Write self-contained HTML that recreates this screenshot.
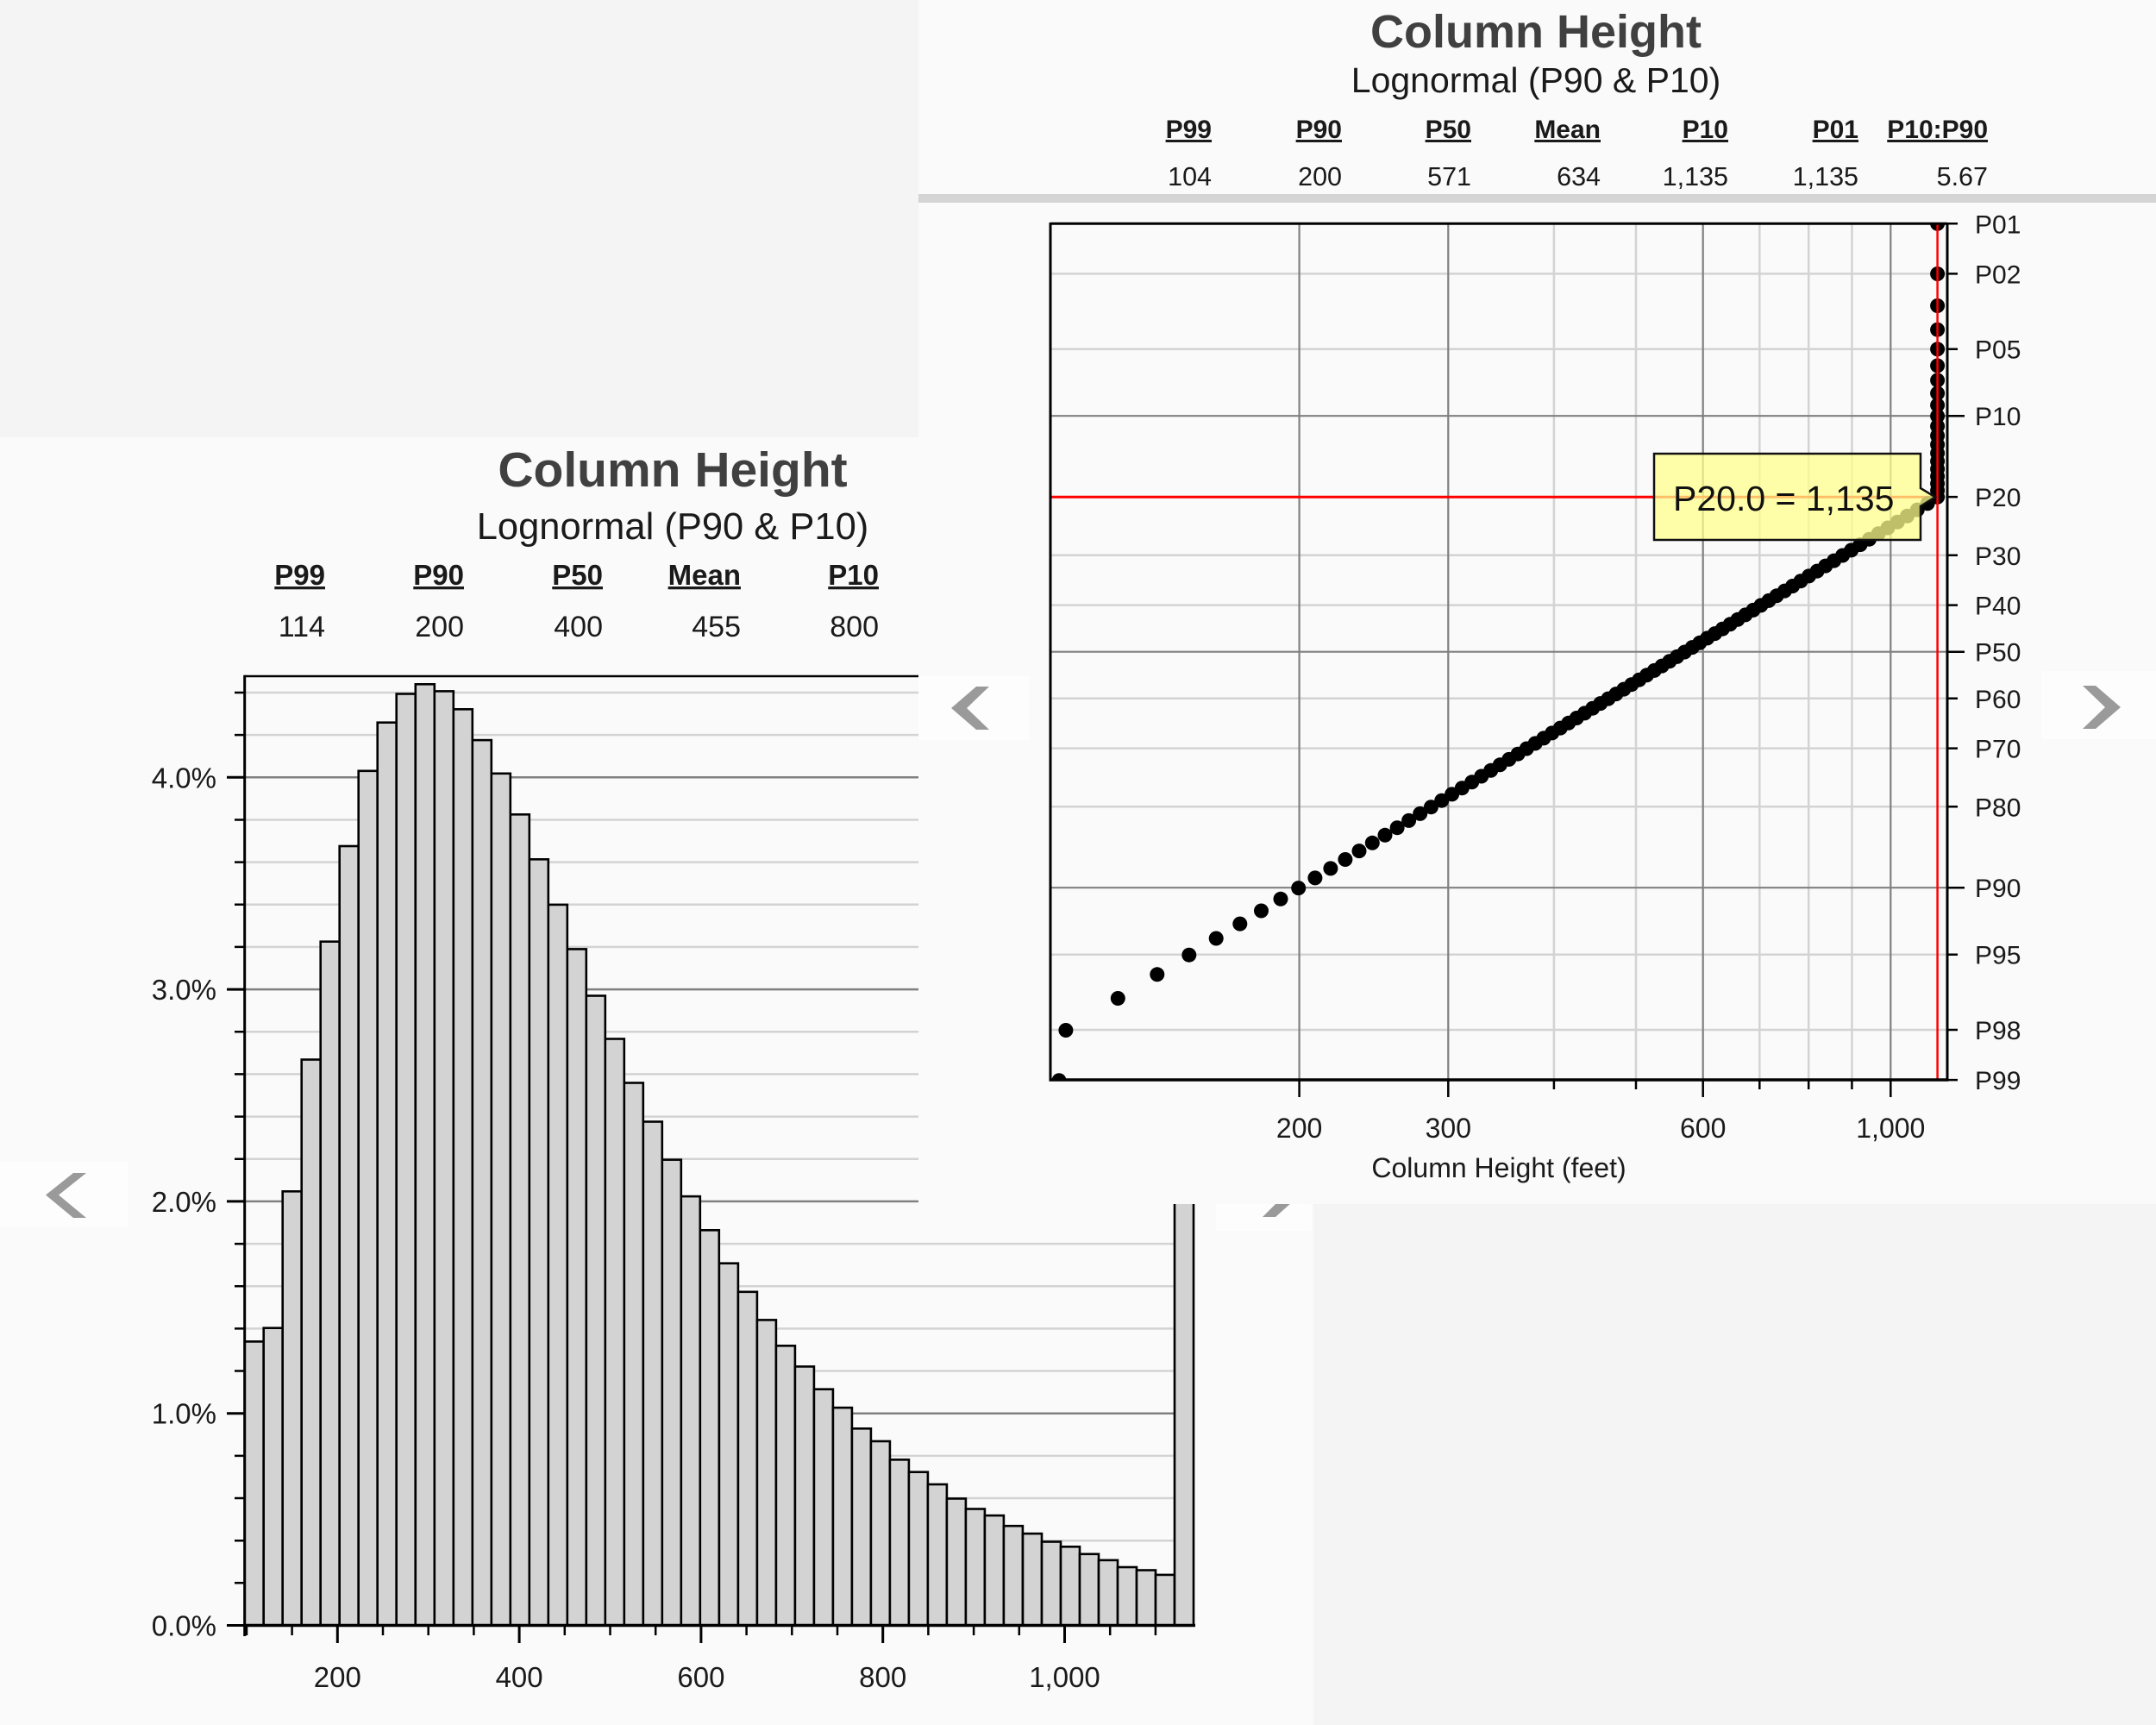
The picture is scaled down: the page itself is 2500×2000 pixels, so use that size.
<!DOCTYPE html>
<html>
<head>
<meta charset="utf-8">
<style>
html,body{margin:0;padding:0;background:#f4f4f4;}
svg{display:block;}
text{font-family:"Liberation Sans",Arial,sans-serif;}
</style>
</head>
<body>
<svg width="2500" height="2000" viewBox="0 0 2500 2000" xmlns="http://www.w3.org/2000/svg">
<defs>
<clipPath id="pc"><rect x="1218" y="259.3" width="1040" height="992.7"/></clipPath>
</defs>
<rect x="0" y="0" width="2500" height="2000" fill="#f4f4f4"/>
<rect x="0" y="507" width="1523" height="1493" fill="#fafafa"/>
<rect x="0" y="1347" width="148" height="75" fill="#fdfdfd"/>
<rect x="1410" y="1343" width="111" height="84" fill="#fdfdfd"/>
<polygon points="100,1360 85,1360 53,1385.5 85,1412 100,1412 68,1385.5" fill="#9a9a9a"/>
<polygon points="1464,1359 1479,1359 1508,1385 1479,1411 1464,1411 1490,1385" fill="#9a9a9a"/>

<!-- LEFT CHART -->
<text x="780" y="564" text-anchor="middle" font-size="57" font-weight="bold" fill="#404040">Column Height</text>
<text x="780" y="625" text-anchor="middle" font-size="43.5" fill="#1a1a1a">Lognormal (P90 &amp; P10)</text>
<g font-size="33" font-weight="bold" fill="#1a1a1a" text-anchor="end" style="text-decoration:underline">
<text x="377" y="678">P99</text>
<text x="538" y="678">P90</text>
<text x="699" y="678">P50</text>
<text x="859" y="678">Mean</text>
<text x="1019" y="678">P10</text>
</g>
<g font-size="34" fill="#1a1a1a" text-anchor="end">
<text x="377" y="738">114</text>
<text x="538" y="738">200</text>
<text x="699" y="738">400</text>
<text x="859" y="738">455</text>
<text x="1019" y="738">800</text>
</g>
<path d="M283.7 1835.3H1384M283.7 1786.2H1384M283.7 1737H1384M283.7 1687.9H1384M283.7 1589.5H1384M283.7 1540.4H1384M283.7 1491.2H1384M283.7 1442.1H1384M283.7 1343.7H1384M283.7 1294.6H1384M283.7 1245.4H1384M283.7 1196.3H1384M283.7 1097.9H1384M283.7 1048.8H1384M283.7 999.6H1384M283.7 950.5H1384M283.7 852.1H1384M283.7 803H1384" stroke="#d3d3d3" stroke-width="2.5" fill="none"/>
<path d="M283.7 1638.7H1384M283.7 1392.9H1384M283.7 1147.1H1384M283.7 901.3H1384" stroke="#808080" stroke-width="2.5" fill="none"/>
<g fill="#d3d3d3" stroke="#000" stroke-width="2.6">
<rect x="283.7" y="1555.4" width="22" height="329.1"/>
<rect x="305.7" y="1539.7" width="22" height="344.8"/>
<rect x="327.7" y="1381.3" width="22" height="503.2"/>
<rect x="349.7" y="1228.5" width="22" height="656"/>
<rect x="371.7" y="1091.7" width="22" height="792.8"/>
<rect x="393.7" y="981" width="22" height="903.5"/>
<rect x="415.7" y="893.8" width="22" height="990.7"/>
<rect x="437.7" y="837.7" width="22" height="1046.8"/>
<rect x="459.7" y="804.5" width="22" height="1080"/>
<rect x="481.8" y="793.3" width="22" height="1091.2"/>
<rect x="503.8" y="801.4" width="22" height="1083.1"/>
<rect x="525.8" y="822.3" width="22" height="1062.2"/>
<rect x="547.8" y="858.1" width="22" height="1026.4"/>
<rect x="569.8" y="896.8" width="22" height="987.7"/>
<rect x="591.8" y="944.3" width="22" height="940.2"/>
<rect x="613.8" y="996.3" width="22" height="888.2"/>
<rect x="635.8" y="1048.9" width="22" height="835.6"/>
<rect x="657.8" y="1100.4" width="22" height="784.1"/>
<rect x="679.8" y="1154.5" width="22" height="730"/>
<rect x="701.8" y="1204.5" width="22" height="680"/>
<rect x="723.8" y="1255.5" width="22" height="629"/>
<rect x="745.8" y="1300.5" width="22" height="584"/>
<rect x="767.8" y="1344.6" width="22" height="539.9"/>
<rect x="789.8" y="1387.1" width="22" height="497.4"/>
<rect x="811.8" y="1426.3" width="22" height="458.2"/>
<rect x="833.9" y="1464.7" width="22" height="419.8"/>
<rect x="855.9" y="1497.8" width="22" height="386.7"/>
<rect x="877.9" y="1530.4" width="22" height="354.1"/>
<rect x="899.9" y="1560.3" width="22" height="324.2"/>
<rect x="921.9" y="1584.4" width="22" height="300.1"/>
<rect x="943.9" y="1610.7" width="22" height="273.8"/>
<rect x="965.9" y="1632.1" width="22" height="252.4"/>
<rect x="987.9" y="1656.3" width="22" height="228.2"/>
<rect x="1009.9" y="1671" width="22" height="213.5"/>
<rect x="1031.9" y="1692.4" width="22" height="192.1"/>
<rect x="1053.9" y="1706.7" width="22" height="177.8"/>
<rect x="1075.9" y="1721" width="22" height="163.5"/>
<rect x="1097.9" y="1737.5" width="22" height="147"/>
<rect x="1119.9" y="1749.5" width="22" height="135"/>
<rect x="1141.9" y="1757.1" width="22" height="127.4"/>
<rect x="1163.9" y="1769.2" width="22" height="115.3"/>
<rect x="1186" y="1778.1" width="22" height="106.4"/>
<rect x="1208" y="1787.5" width="22" height="97"/>
<rect x="1230" y="1793.3" width="22" height="91.2"/>
<rect x="1252" y="1801.8" width="22" height="82.7"/>
<rect x="1274" y="1808.9" width="22" height="75.6"/>
<rect x="1296" y="1817" width="22" height="67.5"/>
<rect x="1318" y="1820.5" width="22" height="64"/>
<rect x="1340" y="1825.9" width="22" height="58.6"/>
<rect x="1362" y="1000" width="22" height="884.5"/>
</g>
<path d="M283.7 784H1384" stroke="#000" stroke-width="2.5"/>
<path d="M283.7 782.8V1897" stroke="#000" stroke-width="3"/>
<path d="M282 1884.5H1386" stroke="#000" stroke-width="3.5"/>
<path d="M272 1835.3H284M272 1786.2H284M272 1737H284M272 1687.9H284M272 1589.5H284M272 1540.4H284M272 1491.2H284M272 1442.1H284M272 1343.7H284M272 1294.6H284M272 1245.4H284M272 1196.3H284M272 1097.9H284M272 1048.8H284M272 999.6H284M272 950.5H284M272 852.1H284M272 803H284" stroke="#000" stroke-width="2.5"/>
<path d="M263 1884.5H284M263 1638.7H284M263 1392.9H284M263 1147.1H284M263 901.3H284" stroke="#000" stroke-width="3"/>
<g font-size="33" fill="#1a1a1a" text-anchor="end">
<text x="251" y="1896.5">0.0%</text>
<text x="251" y="1650.7">1.0%</text>
<text x="251" y="1404.9">2.0%</text>
<text x="251" y="1159.1">3.0%</text>
<text x="251" y="913.3">4.0%</text>
</g>
<path d="M286 1884V1896M338.6 1884V1896M444 1884V1896M496.7 1884V1896M549.4 1884V1896M654.8 1884V1896M707.5 1884V1896M760.2 1884V1896M865.6 1884V1896M918.3 1884V1896M971 1884V1896M1076.4 1884V1896M1129.1 1884V1896M1181.8 1884V1896M1287.2 1884V1896M1339.9 1884V1896" stroke="#000" stroke-width="2.5"/>
<path d="M391.3 1884V1905M602.1 1884V1905M812.9 1884V1905M1023.7 1884V1905M1234.5 1884V1905" stroke="#000" stroke-width="3"/>
<g font-size="33" fill="#1a1a1a" text-anchor="middle">
<text x="391.3" y="1956">200</text>
<text x="602.1" y="1956">400</text>
<text x="812.9" y="1956">600</text>
<text x="1023.7" y="1956">800</text>
<text x="1234.5" y="1956">1,000</text>
</g>

<rect x="1523" y="1396" width="977" height="604" fill="#f4f4f4"/>

<!-- RIGHT PANEL -->
<rect x="1065" y="0" width="1435" height="1396" fill="#fafafa"/>
<rect x="1065" y="225" width="1435" height="10" fill="#d4d4d4"/>
<rect x="1065" y="784" width="128" height="74" fill="#fdfdfd"/>
<rect x="2367" y="778" width="133" height="79" fill="#fdfdfd"/>
<polygon points="1147,796 1132,796 1103,821 1132,846 1147,846 1121,821" fill="#9a9a9a"/>
<polygon points="2415,795 2430,795 2459,820 2430,845 2415,845 2441,820" fill="#9a9a9a"/>

<text x="1781" y="55" text-anchor="middle" font-size="54" font-weight="bold" fill="#404040">Column Height</text>
<text x="1781" y="107" text-anchor="middle" font-size="41" fill="#1a1a1a">Lognormal (P90 &amp; P10)</text>
<g font-size="30" font-weight="bold" fill="#1a1a1a" text-anchor="end" style="text-decoration:underline">
<text x="1405" y="160">P99</text>
<text x="1556" y="160">P90</text>
<text x="1706" y="160">P50</text>
<text x="1856" y="160">Mean</text>
<text x="2004" y="160">P10</text>
<text x="2155" y="160">P01</text>
<text x="2305" y="160">P10:P90</text>
</g>
<g font-size="30.5" fill="#1a1a1a" text-anchor="end">
<text x="1405" y="215">104</text>
<text x="1556" y="215">200</text>
<text x="1706" y="215">571</text>
<text x="1856" y="215">634</text>
<text x="2004" y="215">1,135</text>
<text x="2155" y="215">1,135</text>
<text x="2305" y="215">5.67</text>
</g>

<path d="M1801.9 259V1252M1897 259V1252M2040.3 259V1252M2097.2 259V1252M2147.4 259V1252M1218 317.4H2258M1218 404.7H2258M1218 576.1H2258M1218 643.8H2258M1218 701.6H2258M1218 809.8H2258M1218 867.6H2258M1218 935.3H2258M1218 1106.7H2258M1218 1194H2258" stroke="#d3d3d3" stroke-width="2.5" fill="none"/>
<path d="M1506.6 259V1252M1679.3 259V1252M1974.7 259V1252M2192.3 259V1252M1218 482.2H2258M1218 755.7H2258M1218 1029.2H2258" stroke="#808080" stroke-width="2.2" fill="none"/>
<path d="M1218 576.3H2247" stroke="#ff0000" stroke-width="3"/>
<g clip-path="url(#pc)" fill="#000">
<circle cx="2246.6" cy="259.3" r="8.5"/><circle cx="2246.6" cy="317.5" r="8.5"/><circle cx="2246.6" cy="354.5" r="8.5"/><circle cx="2246.6" cy="382.2" r="8.5"/><circle cx="2246.6" cy="404.8" r="8.5"/><circle cx="2246.6" cy="424" r="8.5"/><circle cx="2246.6" cy="440.9" r="8.5"/><circle cx="2246.6" cy="456" r="8.5"/><circle cx="2246.6" cy="469.7" r="8.5"/><circle cx="2246.6" cy="482.4" r="8.5"/>
<circle cx="2246.6" cy="494.1" r="8.5"/><circle cx="2246.6" cy="505.1" r="8.5"/><circle cx="2246.6" cy="515.5" r="8.5"/><circle cx="2246.6" cy="525.4" r="8.5"/><circle cx="2246.6" cy="534.7" r="8.5"/><circle cx="2246.6" cy="543.7" r="8.5"/><circle cx="2246.6" cy="552.3" r="8.5"/><circle cx="2246.6" cy="560.6" r="8.5"/><circle cx="2246.6" cy="568.6" r="8.5"/><circle cx="2246.6" cy="576.3" r="8.5"/>
<circle cx="2235.1" cy="583.8" r="8.5"/><circle cx="2223.2" cy="591.1" r="8.5"/><circle cx="2211.5" cy="598.3" r="8.5"/><circle cx="2200.2" cy="605.2" r="8.5"/><circle cx="2189" cy="612" r="8.5"/><circle cx="2178.1" cy="618.7" r="8.5"/><circle cx="2167.5" cy="625.2" r="8.5"/><circle cx="2157" cy="631.6" r="8.5"/><circle cx="2146.7" cy="637.9" r="8.5"/><circle cx="2136.6" cy="644" r="8.5"/>
<circle cx="2126.6" cy="650.1" r="8.5"/><circle cx="2116.8" cy="656.1" r="8.5"/><circle cx="2107.1" cy="662.1" r="8.5"/><circle cx="2097.5" cy="667.9" r="8.5"/><circle cx="2088" cy="673.7" r="8.5"/><circle cx="2078.6" cy="679.5" r="8.5"/><circle cx="2069.4" cy="685.1" r="8.5"/><circle cx="2060.1" cy="690.8" r="8.5"/><circle cx="2051" cy="696.4" r="8.5"/><circle cx="2041.9" cy="701.9" r="8.5"/>
<circle cx="2032.9" cy="707.4" r="8.5"/><circle cx="2023.9" cy="712.9" r="8.5"/><circle cx="2015" cy="718.3" r="8.5"/><circle cx="2006.2" cy="723.8" r="8.5"/><circle cx="1997.3" cy="729.2" r="8.5"/><circle cx="1988.5" cy="734.6" r="8.5"/><circle cx="1979.7" cy="739.9" r="8.5"/><circle cx="1970.9" cy="745.3" r="8.5"/><circle cx="1962.2" cy="750.6" r="8.5"/><circle cx="1953.4" cy="756" r="8.5"/>
<circle cx="1944.6" cy="761.4" r="8.5"/><circle cx="1935.9" cy="766.7" r="8.5"/><circle cx="1927.1" cy="772.1" r="8.5"/><circle cx="1918.3" cy="777.4" r="8.5"/><circle cx="1909.5" cy="782.8" r="8.5"/><circle cx="1900.7" cy="788.2" r="8.5"/><circle cx="1891.8" cy="793.7" r="8.5"/><circle cx="1882.9" cy="799.1" r="8.5"/><circle cx="1873.9" cy="804.6" r="8.5"/><circle cx="1864.9" cy="810.1" r="8.5"/>
<circle cx="1855.8" cy="815.6" r="8.5"/><circle cx="1846.7" cy="821.2" r="8.5"/><circle cx="1837.5" cy="826.9" r="8.5"/><circle cx="1828.2" cy="832.5" r="8.5"/><circle cx="1818.8" cy="838.3" r="8.5"/><circle cx="1809.3" cy="844.1" r="8.5"/><circle cx="1799.7" cy="849.9" r="8.5"/><circle cx="1790" cy="855.9" r="8.5"/><circle cx="1780.2" cy="861.9" r="8.5"/><circle cx="1770.2" cy="868" r="8.5"/>
<circle cx="1760.1" cy="874.2" r="8.5"/><circle cx="1749.8" cy="880.4" r="8.5"/><circle cx="1739.3" cy="886.8" r="8.5"/><circle cx="1728.7" cy="893.3" r="8.5"/><circle cx="1717.8" cy="900" r="8.5"/><circle cx="1706.7" cy="906.8" r="8.5"/><circle cx="1695.3" cy="913.7" r="8.5"/><circle cx="1683.6" cy="920.9" r="8.5"/><circle cx="1671.7" cy="928.2" r="8.5"/><circle cx="1659.4" cy="935.7" r="8.5"/>
<circle cx="1646.7" cy="943.4" r="8.5"/><circle cx="1633.6" cy="951.4" r="8.5"/><circle cx="1620.1" cy="959.7" r="8.5"/><circle cx="1606" cy="968.3" r="8.5"/><circle cx="1591.3" cy="977.3" r="8.5"/><circle cx="1576" cy="986.6" r="8.5"/><circle cx="1559.9" cy="996.5" r="8.5"/><circle cx="1542.9" cy="1006.9" r="8.5"/><circle cx="1524.9" cy="1017.9" r="8.5"/><circle cx="1505.7" cy="1029.6" r="8.5"/>
<circle cx="1485" cy="1042.3" r="8.5"/><circle cx="1462.5" cy="1056" r="8.5"/><circle cx="1437.8" cy="1071.1" r="8.5"/><circle cx="1410.2" cy="1088" r="8.5"/><circle cx="1378.8" cy="1107.2" r="8.5"/><circle cx="1341.8" cy="1129.8" r="8.5"/><circle cx="1296.3" cy="1157.5" r="8.5"/><circle cx="1235.9" cy="1194.5" r="8.5"/><circle cx="1228" cy="1252.7" r="8.5"/>
</g>
<path d="M2246.6 259V1252" stroke="#ff0000" stroke-width="2.5"/>
<path d="M1218 259.3H2258" stroke="#000" stroke-width="3"/>
<path d="M1218 258V1253.5" stroke="#000" stroke-width="3"/>
<path d="M2258 258V1253.5" stroke="#000" stroke-width="3"/>
<path d="M1216.5 1252H2259.5" stroke="#000" stroke-width="3.5"/>
<path d="M2258 259.3H2270M2258 317.4H2270M2258 404.7H2270M2258 576.1H2270M2258 643.8H2270M2258 701.6H2270M2258 809.8H2270M2258 867.6H2270M2258 935.3H2270M2258 1106.7H2270M2258 1194H2270M2258 1252.1H2270" stroke="#000" stroke-width="2.5"/>
<path d="M2258 482.2H2278M2258 755.7H2278M2258 1029.2H2278" stroke="#000" stroke-width="2.5"/>
<g font-size="30" fill="#1a1a1a">
<text x="2290" y="270.3">P01</text>
<text x="2290" y="328.4">P02</text>
<text x="2290" y="415.7">P05</text>
<text x="2290" y="493.2">P10</text>
<text x="2290" y="587.1">P20</text>
<text x="2290" y="654.8">P30</text>
<text x="2290" y="712.6">P40</text>
<text x="2290" y="766.7">P50</text>
<text x="2290" y="820.8">P60</text>
<text x="2290" y="878.6">P70</text>
<text x="2290" y="946.3">P80</text>
<text x="2290" y="1040.2">P90</text>
<text x="2290" y="1117.7">P95</text>
<text x="2290" y="1205">P98</text>
<text x="2290" y="1263.1">P99</text>
</g>
<path d="M1801.9 1252V1263M1897 1252V1263M2040.3 1252V1263M2097.2 1252V1263M2147.4 1252V1263" stroke="#000" stroke-width="2.5"/>
<path d="M1506.6 1252V1272M1679.3 1252V1272M1974.7 1252V1272M2192.3 1252V1272" stroke="#000" stroke-width="2.5"/>
<g font-size="32" fill="#1a1a1a" text-anchor="middle">
<text x="1506.6" y="1319">200</text>
<text x="1679.3" y="1319">300</text>
<text x="1974.7" y="1319">600</text>
<text x="2192.3" y="1319">1,000</text>
<text x="1738" y="1365">Column Height (feet)</text>
</g>
<path d="M1918 526H2227V566L2244 576.3L2227 587V626H1918Z" fill="rgba(255,255,140,0.75)" stroke="#111" stroke-width="2.5"/>
<text x="1940" y="592" font-size="41" fill="#111">P20.0 = 1,135</text>
</svg>
</body>
</html>
